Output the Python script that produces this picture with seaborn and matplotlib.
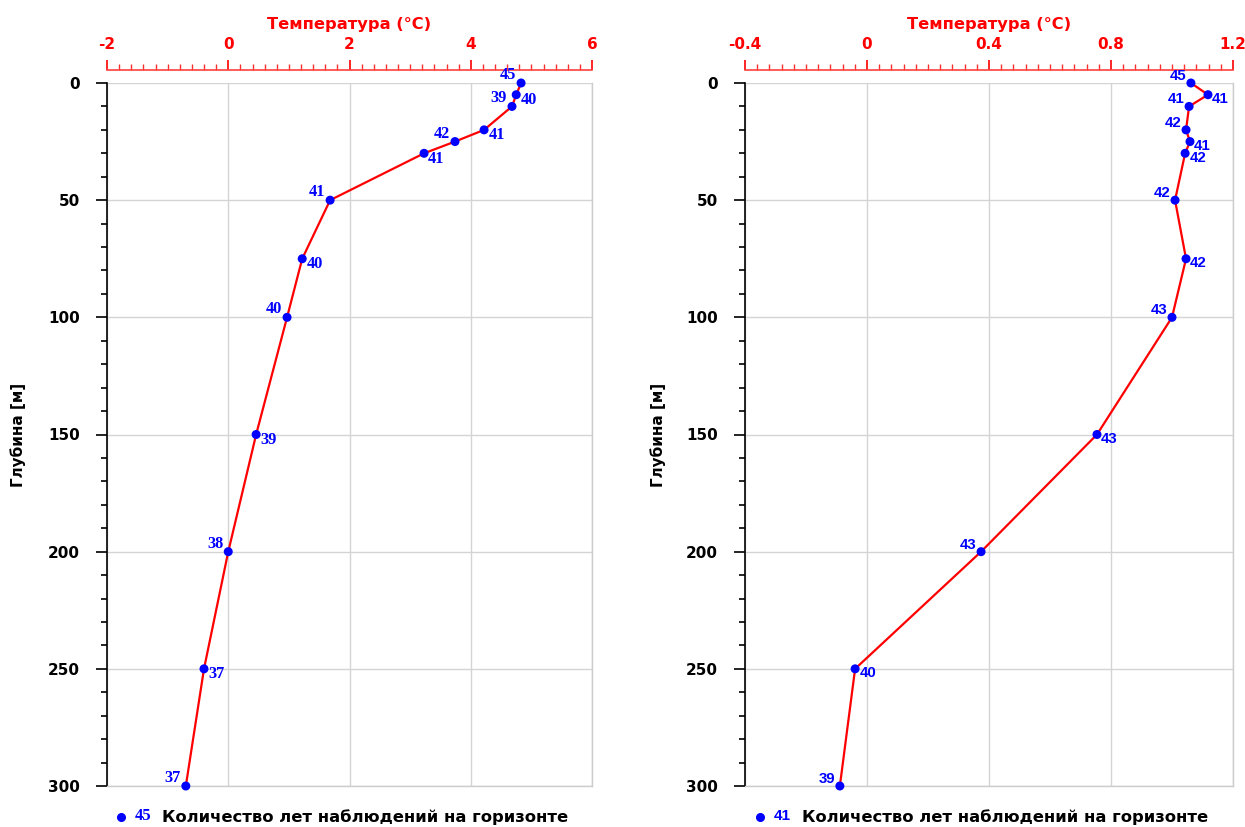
import numpy as np
import pandas as pd
import matplotlib
matplotlib.use("Agg")
import matplotlib.pyplot as plt
from matplotlib.ticker import MultipleLocator, FuncFormatter
from matplotlib.lines import Line2D
import seaborn as sns

# ---- data ----
depth = [0, 5, 10, 20, 25, 30, 50, 75, 100, 150, 200, 250, 300]
temp_left = [4.83, 4.75, 4.68, 4.22, 3.74, 3.23, 1.68, 1.22, 0.97, 0.46, 0.00, -0.40, -0.70]
years_left = [45, 40, 39, 41, 42, 41, 41, 40, 40, 39, 38, 37, 37]
temp_right = [1.062, 1.118, 1.056, 1.046, 1.059, 1.043, 1.010, 1.046, 1.000, 0.754, 0.374, -0.039, -0.089]
years_right = [45, 41, 41, 42, 41, 42, 42, 42, 43, 43, 43, 40, 39]
xlabel = "Температура (°C)"
ylabel = "Глубина [м]"
legend_text = "Количество лет наблюдений на горизонте"

# ---- layout (label placement: L = above-left, R = below-right) ----
side_left = ["L", "R", "L", "R", "L", "R", "L", "R", "L", "R", "L", "R", "L"]
side_right = ["L", "R", "L", "L", "R", "R", "L", "R", "L", "R", "L", "R", "L"]

sns.set_theme(style="white")
plt.rcParams["font.family"] = ["DejaVu Sans"]
plt.rcParams["font.weight"] = "bold"
plt.rcParams["axes.unicode_minus"] = False

W, H = 1245, 827
fig = plt.figure(figsize=(W / 100, H / 100), dpi=100)
fig.patch.set_facecolor("white")
PX = 0.72  # points per pixel


def px_axes(x0, x1, y0, y1):
    return fig.add_axes([x0 / W, 1 - y1 / H, (x1 - x0) / W, (y1 - y0) / H])


def make_panel(ax, temps, years, sides, xlim, xmajor, xminor, label_family, label_size, ylab_x):
    df = pd.DataFrame({"t": temps, "d": depth})
    sns.lineplot(data=df, x="t", y="d", orient="y", sort=False, errorbar=None,
                 color="#ff0000", lw=1.6, ax=ax, clip_on=False, zorder=3)
    sns.scatterplot(data=df, x="t", y="d", color="#0000ff", s=42, edgecolor="none",
                    ax=ax, clip_on=False, zorder=4)
    ax.set_xlim(*xlim)
    ax.set_ylim(300, 0)
    ax.set_facecolor("white")
    # top temperature axis
    ax.xaxis.tick_top()
    ax.xaxis.set_label_position("top")
    ax.xaxis.set_major_locator(MultipleLocator(xmajor))
    ax.xaxis.set_minor_locator(MultipleLocator(xminor))
    ax.xaxis.set_major_formatter(FuncFormatter(lambda v, p: "%g" % round(v, 6)))
    ax.tick_params(axis="x", which="major", direction="out", length=10 * PX, width=1.2,
                   colors="#ff0000", labelsize=11, pad=8 * PX, top=True, bottom=False)
    ax.tick_params(axis="x", which="minor", direction="out", length=6 * PX, width=1,
                   colors="#ff3030", top=True, bottom=False)
    ax.set_xlabel(xlabel, color="#ff0000", fontweight="bold", fontsize=11.7,
                  labelpad=8 * PX)
    ax.spines["top"].set_position(("outward", 13 * PX))
    ax.spines["top"].set_color("#ff4040")
    ax.spines["top"].set_linewidth(1.2)
    # depth axis
    ax.yaxis.set_major_locator(MultipleLocator(50))
    ax.yaxis.set_minor_locator(MultipleLocator(10))
    ax.tick_params(axis="y", which="major", direction="out", length=11 * PX, width=1.2,
                   colors="black", labelsize=11, pad=16 * PX, left=True)
    ax.tick_params(axis="y", which="minor", direction="out", length=6 * PX, width=1.2,
                   colors="black", left=True)
    ax.set_ylabel("")
    fig.text(ylab_x / W, 1 - 435 / H, ylabel, rotation=90, ha="center", va="center",
             fontsize=11, fontweight="bold", color="black")
    ax.spines["left"].set_color("black")
    ax.spines["left"].set_linewidth(1.2)
    for s in ("right", "bottom"):
        ax.spines[s].set_color("#cccccc")
        ax.spines[s].set_linewidth(1)
    ax.grid(True, which="major", color="#d4d4d4", lw=1)
    ax.set_axisbelow(True)
    # point labels
    for t, d, n, sd in zip(temps, depth, years, sides):
        if sd == "L":
            ax.annotate(str(n), (t, d), xytext=(-3.5, 0), textcoords="offset points",
                        ha="right", va="bottom", color="#0000ff", fontsize=label_size,
                        fontweight="bold", family=label_family, annotation_clip=False,
                        zorder=5)
        else:
            ax.annotate(str(n), (t, d), xytext=(3, 2), textcoords="offset points",
                        ha="left", va="top", color="#0000ff", fontsize=label_size,
                        fontweight="bold", family=label_family, annotation_clip=False,
                        zorder=5)


axL = px_axes(107, 592, 83, 786)
axR = px_axes(745, 1233, 83, 786)
make_panel(axL, temp_left, years_left, side_left, (-2, 6), 2, 0.2, "Liberation Serif", 11.8, 18)
make_panel(axR, temp_right, years_right, side_right, (-0.4, 1.2), 0.4, 0.04, "Liberation Sans", 10.8, 658)


def legend(x_dot, x_num, x_txt, num, fam, size):
    fig.add_artist(Line2D([x_dot / W], [1 - 817 / H], marker="o", color="#0000ff",
                          markersize=5.5, lw=0, transform=fig.transFigure))
    fig.text(x_num / W, 1 - 816 / H, str(num), color="#0000ff", fontsize=size,
             fontweight="bold", family=fam, ha="left", va="center")
    fig.text(x_txt / W, 1 - 817 / H, legend_text, color="black", fontsize=11.8,
             fontweight="bold", ha="left", va="center")


legend(121, 135, 162, years_left[0], "Liberation Serif", 12)
legend(760, 774, 802, years_right[1], "Liberation Sans", 11)

fig.savefig("out.png", dpi=100, facecolor="white")
